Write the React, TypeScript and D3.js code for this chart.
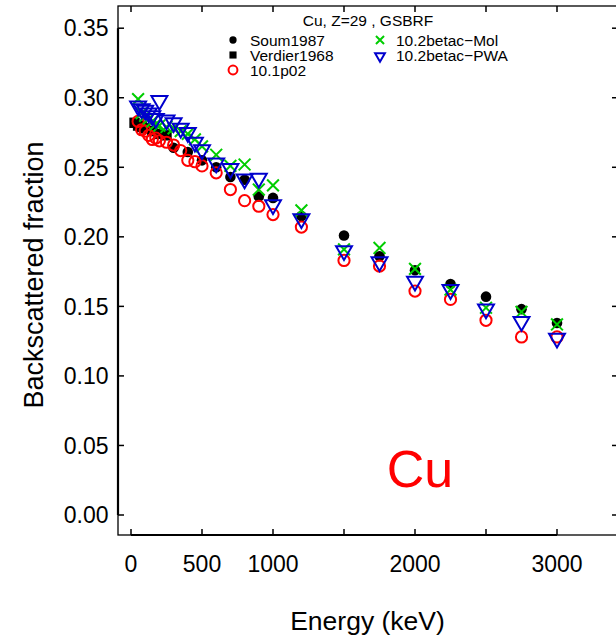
import React from 'react';
import * as d3 from 'd3';

const W = 616;
const H = 641;

// Simulation energies (keV)
const simEnergy = [50, 75, 100, 125, 150, 175, 200, 250, 300, 350, 400, 450, 500, 600, 700, 800, 900, 1000, 1200, 1500, 1750, 2000, 2250, 2500, 2750, 3000];
// 10.1p02
const g4v101p02 = [0.283, 0.277, 0.276, 0.273, 0.270, 0.271, 0.269, 0.268, 0.266, 0.262, 0.255, 0.254, 0.251, 0.246, 0.234, 0.226, 0.222, 0.216, 0.207, 0.183, 0.179, 0.161, 0.155, 0.140, 0.128, 0.128];
// 10.2betac-Mol
const g4v102Mol = [0.299, 0.289, 0.287, 0.285, 0.283, 0.281, 0.280, 0.279, 0.278, 0.276, 0.274, 0.270, 0.265, 0.259, 0.251, 0.252, 0.234, 0.237, 0.219, 0.191, 0.192, 0.177, 0.162, 0.149, 0.146, 0.137];
// 10.2betac-PWA
const g4v102PWA = [0.294, 0.292, 0.291, 0.289, 0.287, 0.285, 0.298, 0.284, 0.282, 0.278, 0.275, 0.268, 0.2625, 0.253, 0.249, 0.2415, 0.242, 0.223, 0.213, 0.190, 0.182, 0.168, 0.162, 0.148, 0.139, 0.127];

// Experimental data
const soumEnergy = [300, 400, 500, 600, 700, 800, 900, 1000, 1200, 1500, 1750, 2000, 2250, 2500, 2750, 3000];
const soumValue = [0.264, 0.261, 0.255, 0.250, 0.243, 0.241, 0.229, 0.228, 0.215, 0.201, 0.186, 0.176, 0.166, 0.157, 0.148, 0.138];
const verdierEnergy = [25, 50, 75, 100, 150, 200, 250];
const verdierValue = [0.282, 0.280, 0.279, 0.278, 0.276, 0.274, 0.273];

const xTicks = [0, 500, 1000, 1500, 2000, 2500, 3000];
const xTickLabels = ['0', '500', '1000', '', '2000', '', '3000'];
const yTicks = [0, 0.05, 0.1, 0.15, 0.2, 0.25, 0.3, 0.35];
const yTickLabels = ['0.00', '0.05', '0.10', '0.15', '0.20', '0.25', '0.30', '0.35'];

const GREEN = '#00CD00';
const BLUE = '#0000CD';
const RED = '#FF0000';
const FONT = '"Liberation Sans", Arial, Helvetica, sans-serif';

const frame = { left: 118, top: 6, right: 620, bottom: 535 };
const x = d3.scaleLinear().domain([0, 3000]).range([131, 557]);
const y = d3.scaleLinear().domain([0, 0.35]).range([515, 28.2]);

function Dot({ cx, cy, s = 1 }: { cx: number; cy: number; s?: number }) {
  return <circle cx={cx} cy={cy} r={5.3 * s} fill="black" />;
}
function Square({ cx, cy, s = 1 }: { cx: number; cy: number; s?: number }) {
  const h = 5.2 * s;
  return <rect x={cx - h} y={cy - h} width={2 * h} height={2 * h} fill="black" />;
}
function Ring({ cx, cy, s = 1 }: { cx: number; cy: number; s?: number }) {
  return <circle cx={cx} cy={cy} r={5.6 * s} fill="none" stroke={RED} strokeWidth={2} />;
}
function Cross({ cx, cy, s = 1 }: { cx: number; cy: number; s?: number }) {
  const h = 5.9 * s;
  return (
    <path
      d={`M${cx - h},${cy - h}L${cx + h},${cy + h}M${cx - h},${cy + h}L${cx + h},${cy - h}`}
      stroke={GREEN}
      strokeWidth={2}
      fill="none"
    />
  );
}
function TriDown({ cx, cy, s = 1 }: { cx: number; cy: number; s?: number }) {
  const r = 9.2 * s;
  const xc = r * 0.866;
  return (
    <path
      d={`M${cx},${cy + r}L${cx + xc},${cy - r / 2}L${cx - xc},${cy - r / 2}Z`}
      stroke={BLUE}
      strokeWidth={2}
      fill="none"
      strokeLinejoin="miter"
    />
  );
}

export default function App() {
  const legendS = 0.72;
  return (
    <svg
      width={W}
      height={H}
      style={{ position: 'absolute', left: 0, top: 0, background: 'white' }}
      fontFamily={FONT}
    >
      <rect x={0} y={0} width={W} height={H} fill="white" />
      <defs>
        <clipPath id="plotclip">
          <rect x={frame.left} y={frame.top} width={frame.right - frame.left} height={frame.bottom - frame.top} />
        </clipPath>
      </defs>

      {/* data */}
      <g clipPath="url(#plotclip)">
        {soumEnergy.map((e, i) => (
          <Dot key={'s' + i} cx={x(e)} cy={y(soumValue[i])} />
        ))}
        {verdierEnergy.map((e, i) => (
          <Square key={'v' + i} cx={x(e)} cy={y(verdierValue[i])} />
        ))}
        {simEnergy.map((e, i) => (
          <Ring key={'r' + i} cx={x(e)} cy={y(g4v101p02[i])} />
        ))}
        {simEnergy.map((e, i) => (
          <Cross key={'c' + i} cx={x(e)} cy={y(g4v102Mol[i])} />
        ))}
        {simEnergy.map((e, i) => (
          <TriDown key={'t' + i} cx={x(e)} cy={y(g4v102PWA[i])} />
        ))}
      </g>

      {/* box */}
      <rect
        x={frame.left}
        y={frame.top}
        width={frame.right - frame.left}
        height={frame.bottom - frame.top}
        fill="none"
        stroke="black"
        strokeWidth={1.3}
      />
      {/* axis lines */}
      <line x1={x(0)} x2={x(3000)} y1={frame.bottom} y2={frame.bottom} stroke="black" strokeWidth={2.2} />
      <line x1={frame.left} x2={frame.left} y1={y(0)} y2={y(0.35)} stroke="black" strokeWidth={2.2} />

      {/* x ticks */}
      {xTicks.map((t, i) => (
        <g key={'xt' + i}>
          <line x1={x(t)} x2={x(t)} y1={frame.bottom} y2={frame.bottom - 6} stroke="black" strokeWidth={1.5} />
          <line x1={x(t)} x2={x(t)} y1={frame.top} y2={frame.top + 6} stroke="black" strokeWidth={1.5} />
          {xTickLabels[i] && (
            <text x={x(t)} y={572} fontSize={23} textAnchor="middle" fill="black">
              {xTickLabels[i]}
            </text>
          )}
        </g>
      ))}
      {/* y ticks */}
      {yTicks.map((t, i) => (
        <g key={'yt' + i}>
          <line x1={frame.left} x2={frame.left + 6} y1={y(t)} y2={y(t)} stroke="black" strokeWidth={1.5} />
          <line x1={frame.right} x2={frame.right - 8} y1={y(t)} y2={y(t)} stroke="black" strokeWidth={1.5} />
          <text x={108.5} y={y(t)} dy="0.36em" fontSize={23} textAnchor="end" fill="black">
            {yTickLabels[i]}
          </text>
        </g>
      ))}

      {/* axis titles */}
      <text x={367.5} y={630} fontSize={26.5} textAnchor="middle" fill="black">
        Energy (keV)
      </text>
      <text
        transform={`translate(42.5,275) rotate(-90)`}
        fontSize={27}
        textAnchor="middle"
        fill="black"
      >
        Backscattered fraction
      </text>

      {/* legend */}
      <text x={368} y={26} fontSize={15.5} textAnchor="middle" fill="black">
        Cu, Z=29 , GSBRF
      </text>
      <Dot cx={233} cy={40} s={legendS * 0.95} />
      <Square cx={233} cy={55} s={legendS * 0.95} />
      <Ring cx={233} cy={70} s={legendS * 1.1} />
      <Cross cx={380} cy={40} s={legendS * 0.95} />
      <TriDown cx={380} cy={56} s={legendS * 0.85} />
      <text x={250} y={45.5} fontSize={15.5} fill="black">Soum1987</text>
      <text x={250} y={61} fontSize={15.5} fill="black">Verdier1968</text>
      <text x={250} y={76} fontSize={15.5} fill="black">10.1p02</text>
      <text x={396} y={45.5} fontSize={15.5} fill="black">10.2betac−Mol</text>
      <text x={396} y={61} fontSize={15.5} fill="black">10.2betac−PWA</text>

      {/* big label */}
      <text x={420} y={487} fontSize={52} textAnchor="middle" fill={RED}>
        Cu
      </text>
    </svg>
  );
}
